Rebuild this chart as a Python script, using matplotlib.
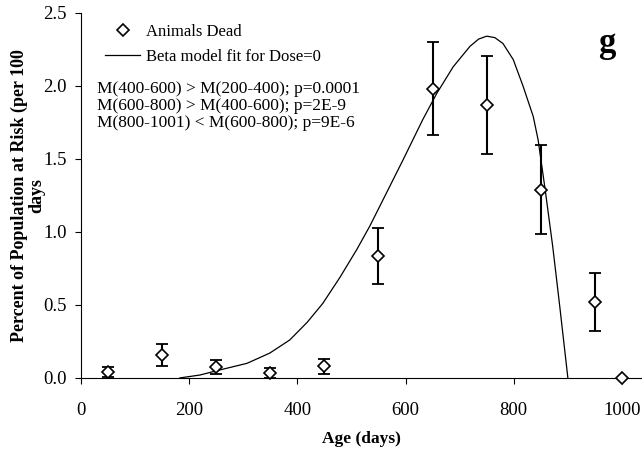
import numpy as np
import matplotlib
matplotlib.use("Agg")
import matplotlib.pyplot as plt
from matplotlib.lines import Line2D

plt.rcParams['font.family'] = ['Liberation Serif', 'DejaVu Serif']

# Observed deaths per 100 days (percent of population at risk)
age = [50, 150, 250, 350, 450, 550, 650, 750, 850, 950, 1000]
dead = [0.04, 0.16, 0.075, 0.035, 0.08, 0.835, 1.98, 1.87, 1.29, 0.52, 0.0]
err = [0.035, 0.075, 0.05, 0.035, 0.05, 0.195, 0.32, 0.335, 0.305, 0.20, 0.0]

# Beta model fit for dose 0
fit_age = [183, 220, 257, 307, 349, 386, 418, 447, 479, 510, 534, 553,
           595, 632, 658, 688, 719, 735, 750, 765, 780, 799, 817, 836,
           845, 858, 872, 885, 900]
fit_val = [0.0, 0.02, 0.055, 0.10, 0.17, 0.26, 0.38, 0.51, 0.69, 0.88, 1.04, 1.18,
           1.49, 1.77, 1.95, 2.13, 2.27, 2.32, 2.34, 2.33, 2.29, 2.18, 2.00, 1.79,
           1.63, 1.29, 0.90, 0.49, 0.0]

stats = ["M(400-600) > M(200-400); p=0.0001",
         "M(600-800) > M(400-600); p=2E-9",
         "M(800-1001) < M(600-800); p=9E-6"]

fig = plt.figure(figsize=(6.42, 4.57), dpi=100)
ax = fig.add_axes([0.126, 0.173, 0.874, 0.799])

ax.plot(fit_age, fit_val, color='black', lw=0.9)

err_bars = [e if e > 0 else np.nan for e in err]
ax.errorbar(age, dead, yerr=err_bars, fmt='none', ecolor='black',
            elinewidth=1.5, capsize=4, capthick=1.3)
ax.plot(age, dead, linestyle='none', marker='D', markersize=6,
        mfc='white', mec='black', mew=1.2, clip_on=False, zorder=5)

ax.set_xlim(0, 1037)
ax.set_ylim(0, 2.5)
ax.set_xticks([0, 200, 400, 600, 800, 1000])
ax.set_yticks([0.0, 0.5, 1.0, 1.5, 2.0, 2.5])
ax.set_yticklabels(['0.0', '0.5', '1.0', '1.5', '2.0', '2.5'])
ax.tick_params(axis='x', direction='out', length=4, pad=13, labelsize=13.5)
ax.tick_params(axis='y', direction='out', length=4, pad=6, labelsize=13.5)
for s in ['top', 'right']:
    ax.spines[s].set_visible(False)

ax.set_xlabel('Age (days)', fontsize=12.5, fontweight='bold', labelpad=9)
ax.set_ylabel('Percent of Population at Risk (per 100\ndays', fontsize=13,
              fontweight='bold', linespacing=1.0)
ax.yaxis.set_label_coords(-0.064, 0.5)

handles = [Line2D([], [], linestyle='none', marker='D', markersize=6,
                  mfc='white', mec='black', mew=1.2),
           Line2D([], [], color='black', lw=0.9)]
ax.legend(handles, ['Animals Dead', 'Beta model fit for Dose=0'],
          loc='upper left', bbox_to_anchor=(0.017, 1.01), frameon=False,
          fontsize=12, handlelength=2.1, labelspacing=0.55, handletextpad=0.35)

ax.text(0.0285, 0.812, '\n'.join(stats), transform=ax.transAxes,
        fontsize=12.5, va='top', ha='left', linespacing=1.08)
ax.text(0.9376, 0.892, 'g', transform=ax.transAxes, fontsize=25,
        fontweight='bold', ha='center', va='baseline')

fig.savefig('out.png', dpi=100)
